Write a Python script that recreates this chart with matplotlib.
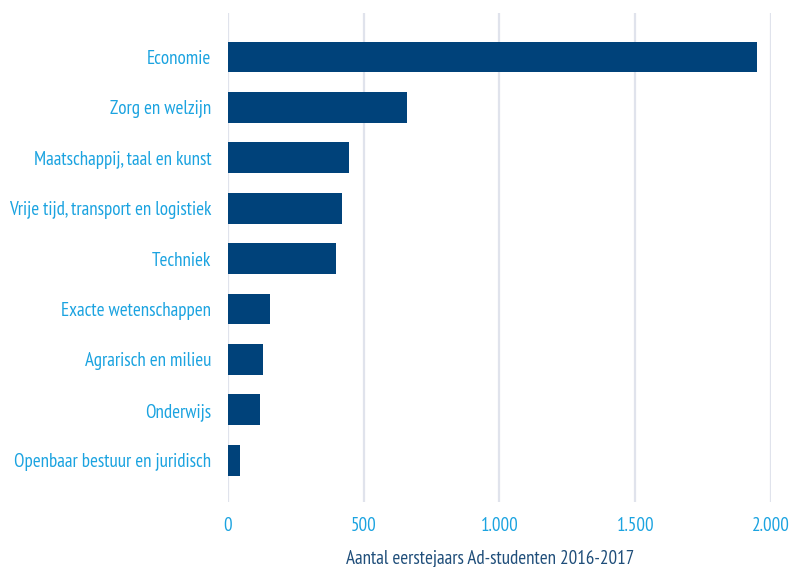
import matplotlib
matplotlib.use("Agg")
import matplotlib.pyplot as plt

# data
categories = [
    "Economie",
    "Zorg en welzijn",
    "Maatschappij, taal en kunst",
    "Vrije tijd, transport en logistiek",
    "Techniek",
    "Exacte wetenschappen",
    "Agrarisch en milieu",
    "Onderwijs",
    "Openbaar bestuur en juridisch",
]
students = [1950, 660, 445, 420, 398, 155, 128, 118, 43]
xticks = [0, 500, 1000, 1500, 2000]
xtick_labels = ["0", "500", "1.000", "1.500", "2.000"]

bar_color = "#00427a"
label_color = "#1ba3e0"
title_color = "#1f4e7a"

plt.rcParams["font.family"] = ["PT Sans Narrow", "DejaVu Sans"]

fig = plt.figure(figsize=(7.91, 5.67), dpi=100)
ax = fig.add_axes([0.2882, 0.1146, 0.6865, 0.8624])

y = range(len(categories))
ax.barh(y, students, height=0.61, color=bar_color, zorder=3)

ax.set_ylim(len(categories) - 1 + 0.83, -0.87)
ax.set_xlim(0, 2000)
ax.set_yticks(list(y), categories)
ax.set_xticks(xticks, xtick_labels)

ax.tick_params(axis="y", length=0, pad=12, labelsize=13.7, labelcolor=label_color)
ax.tick_params(axis="x", length=0, pad=11, labelsize=13.7, labelcolor=label_color)

ax.grid(axis="x", color="#e0e3ec", linewidth=1.6, zorder=0)
for side in ["top", "right", "bottom", "left"]:
    ax.spines[side].set_visible(False)

ax.set_xlabel("Aantal eerstejaars Ad-studenten 2016-2017", fontsize=13.7,
              color=title_color, labelpad=10)
ax.xaxis.label.set_x(0.482)

fig.savefig("out.png", dpi=100)
